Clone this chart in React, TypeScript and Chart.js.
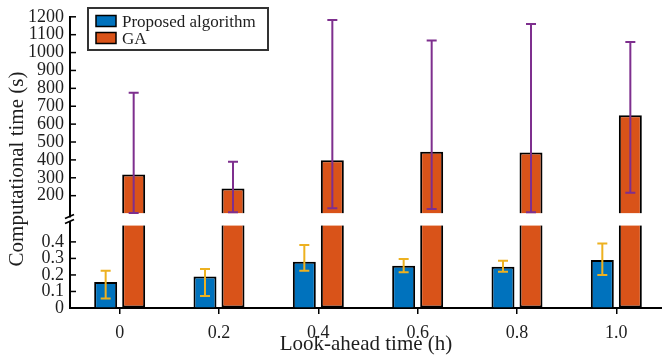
import React, { useEffect, useRef } from 'react';
import { Chart, registerables } from 'chart.js';

Chart.register(...registerables);

// ---- data ----
const CATEGORIES = ['0', '0.2', '0.4', '0.6', '0.8', '1.0'];
const PROPOSED_MEAN = [0.157, 0.19, 0.28, 0.256, 0.25, 0.29];
const PROPOSED_LOW = [0.058, 0.073, 0.226, 0.216, 0.22, 0.2];
const PROPOSED_HIGH = [0.226, 0.236, 0.381, 0.296, 0.286, 0.39];
const GA_MEAN = [319, 240, 398, 446, 442, 649];
const GA_LOW = [103, 108, 129, 125, 108, 216];
const GA_HIGH = [775, 390, 1182, 1068, 1160, 1059];
const Y_HIGH_TICKS = [200, 300, 400, 500, 600, 700, 800, 900, 1000, 1100, 1200];
const Y_LOW_TICKS = [0, 0.1, 0.2, 0.3, 0.4];
const Y_HIGH_RANGE = [100, 1200];
const Y_LOW_RANGE = [0, 0.5];
const SERIES_LABELS = ['Proposed algorithm', 'GA'];

// ---- styles ----
const BLUE = '#0072BD';
const ORANGE = '#D95319';
const YELLOW = '#EDB120';
const PURPLE = '#7E2F8E';
const TEXT = '#1e1e1e';
const FONT = 'Liberation Serif';

const decorations = {
  id: 'decorations',
  afterDatasetsDraw(chart: any) {
    const ctx = chart.ctx;
    const drawErr = (dsIndex: number, scaleId: string, lows: number[], highs: number[], color: string) => {
      const meta = chart.getDatasetMeta(dsIndex);
      const scale = chart.scales[scaleId];
      meta.data.forEach((bar: any, i: number) => {
        const x = bar.x;
        const y1 = scale.getPixelForValue(lows[i]);
        const y2 = scale.getPixelForValue(highs[i]);
        ctx.save();
        ctx.strokeStyle = color;
        ctx.lineWidth = 2;
        ctx.beginPath();
        ctx.moveTo(x, y1);
        ctx.lineTo(x, y2);
        ctx.moveTo(x - 5, y1);
        ctx.lineTo(x + 5, y1);
        ctx.moveTo(x - 5, y2);
        ctx.lineTo(x + 5, y2);
        ctx.stroke();
        ctx.restore();
      });
    };
    drawErr(0, 'yLow', PROPOSED_LOW, PROPOSED_HIGH, YELLOW);
    drawErr(2, 'yHigh', GA_LOW, GA_HIGH, PURPLE);
  },
  afterDraw(chart: any) {
    const ctx = chart.ctx;
    const area = chart.chartArea;
    const left = area.left;
    ctx.save();
    // inward y ticks
    ctx.strokeStyle = '#000';
    ctx.lineWidth = 1.5;
    const tickMarks = (scaleId: string, ticks: number[]) => {
      const s = chart.scales[scaleId];
      ticks.forEach((t) => {
        const y = s.getPixelForValue(t);
        ctx.beginPath();
        ctx.moveTo(left, y);
        ctx.lineTo(left + 6, y);
        ctx.stroke();
      });
    };
    tickMarks('yHigh', Y_HIGH_TICKS);
    tickMarks('yLow', Y_LOW_TICKS.slice(1));

    // break marker
    const gap = chart.scales.yGap;
    const yc = (gap.top + gap.bottom) / 2;
    ctx.fillStyle = '#fff';
    ctx.fillRect(left - 2, yc - 2, 4, 4);
    ctx.strokeStyle = '#000';
    ctx.lineWidth = 1.8;
    ctx.beginPath();
    ctx.moveTo(left - 5, yc - 1);
    ctx.lineTo(left + 4, yc - 5);
    ctx.moveTo(left - 5, yc + 4);
    ctx.lineTo(left + 4, yc);
    ctx.stroke();

    // legend
    ctx.fillStyle = '#fff';
    ctx.fillRect(88, 8, 180, 42);
    ctx.strokeStyle = '#333';
    ctx.lineWidth = 2;
    ctx.strokeRect(88, 8, 180, 42);
    const colors = [BLUE, ORANGE];
    const ys = [15.5, 32.5];
    ctx.font = `17px "${FONT}"`;
    ctx.textBaseline = 'alphabetic';
    ctx.textAlign = 'left';
    SERIES_LABELS.forEach((label, i) => {
      ctx.fillStyle = colors[i];
      ctx.fillRect(96, ys[i], 20, 11);
      ctx.strokeStyle = '#000';
      ctx.lineWidth = 1.5;
      ctx.strokeRect(96, ys[i], 20, 11);
      ctx.fillStyle = TEXT;
      ctx.fillText(label, 122, ys[i] + 11.5);
    });

    // axis titles
    ctx.fillStyle = TEXT;
    ctx.font = `21px "${FONT}"`;
    ctx.textAlign = 'center';
    ctx.textBaseline = 'alphabetic';
    ctx.fillText('Look-ahead time (h)', 366, 350);
    ctx.translate(23, 169);
    ctx.rotate(-Math.PI / 2);
    ctx.fillText('Computational time (s)', 0, 0);
    ctx.restore();
  },
};

export default function App() {
  const ref = useRef<HTMLCanvasElement | null>(null);

  useEffect(() => {
    if (!ref.current) return;
    const fixWidth = (s: any) => {
      s.width = 70;
    };
    const yCommon = {
      type: 'linear' as const,
      position: 'left' as const,
      stack: 'y',
      stacked: false,
      offset: false,
      afterFit: fixWidth,
      grid: { display: true, drawOnChartArea: false, drawTicks: false, color: 'rgba(0,0,0,0)' },
      border: { display: true, color: '#000', width: 2 },
    };
    const chart = new Chart(ref.current, {
      type: 'bar',
      data: {
        labels: CATEGORIES,
        datasets: [
          {
            label: SERIES_LABELS[0],
            data: PROPOSED_MEAN,
            yAxisID: 'yLow',
            stack: 'p',
            backgroundColor: BLUE,
            borderColor: '#000',
            borderWidth: 2,
            borderSkipped: 'start',
          },
          {
            label: SERIES_LABELS[1],
            data: GA_MEAN.map((v) => Math.min(v, Y_LOW_RANGE[1])),
            yAxisID: 'yLow',
            stack: 'g',
            backgroundColor: ORANGE,
            borderColor: '#000',
            borderWidth: 2,
            borderSkipped: 'end',
          },
          {
            label: SERIES_LABELS[1] + ' ',
            data: GA_MEAN.map((v) => [Y_HIGH_RANGE[0], v]) as any,
            yAxisID: 'yHigh',
            stack: 'g',
            backgroundColor: ORANGE,
            borderColor: '#000',
            borderWidth: 2,
            borderSkipped: 'start',
          },
        ],
      },
      options: {
        animation: false,
        responsive: false,
        devicePixelRatio: 1,
        layout: { padding: { left: 0, right: 0, top: 12, bottom: 0 } },
        datasets: { bar: { categoryPercentage: 0.564, barPercentage: 0.82 } },
        plugins: { legend: { display: false }, tooltip: { enabled: false } },
        scales: {
          x: {
            type: 'category',
            offset: true,
            afterFit: (s: any) => {
              s.height = 48;
            },
            grid: { display: true, drawOnChartArea: false, drawTicks: true, tickLength: 6, color: '#000', lineWidth: 1.5, offset: false },
            border: { display: true, color: '#000', width: 2 },
            ticks: { color: TEXT, font: { family: FONT, size: 18 }, padding: 8, maxRotation: 0, autoSkip: false },
          },
          yHigh: {
            ...yCommon,
            weight: 3,
            stackWeight: 200,
            min: Y_HIGH_RANGE[0],
            max: Y_HIGH_RANGE[1],
            afterBuildTicks: (s: any) => {
              s.ticks = Y_HIGH_TICKS.map((v) => ({ value: v }));
            },
            ticks: { color: TEXT, font: { family: FONT, size: 18 }, padding: 6, autoSkip: false, callback: (v: any) => String(v) },
          },
          yGap: {
            ...yCommon,
            weight: 2,
            stackWeight: 12,
            min: 0,
            max: 1,
            ticks: { display: false },
          },
          yLow: {
            ...yCommon,
            weight: 1,
            stackWeight: 84,
            min: Y_LOW_RANGE[0],
            max: Y_LOW_RANGE[1],
            afterBuildTicks: (s: any) => {
              s.ticks = Y_LOW_TICKS.map((v) => ({ value: v }));
            },
            ticks: { color: TEXT, font: { family: FONT, size: 18 }, padding: 6, autoSkip: false, callback: (v: any) => String(v) },
          },
        } as any,
      },
      plugins: [decorations],
    });
    return () => chart.destroy();
  }, []);

  return (
    <div style={{ position: 'absolute', left: 0, top: 0, width: 662, height: 356, overflow: 'hidden', background: '#fff' }}>
      <canvas ref={ref} width={666} height={356} style={{ display: 'block', width: 666, height: 356 }} />
    </div>
  );
}
